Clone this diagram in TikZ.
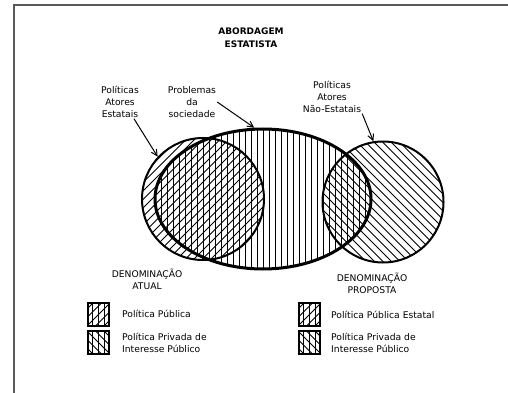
\documentclass[tikz,border=0pt]{standalone}
\usepackage{fontspec}
\setmainfont{DejaVu Sans}
\usetikzlibrary{shapes.geometric,arrows.meta}
\newcommand\hatchV{\foreach \k in {-20,...,20} \draw[hl] ([xshift=\k*6pt, yshift=-100pt]path picture bounding box.center) -- ++(0,-200);}
\newcommand\hatchNE{\foreach \k in {-14,...,14} \draw[hl] ([xshift=\k*8.5pt-100pt, yshift=-100pt]path picture bounding box.center) -- ++(200,-200);}
\newcommand\hatchNW{\foreach \k in {-14,...,14} \draw[hl] ([xshift=\k*8.5pt+100pt, yshift=-100pt]path picture bounding box.center) -- ++(-200,-200);}
\begin{document}
\begin{tikzpicture}[x=1pt,y=-1pt,
  hl/.style={line width=1pt, black},
  shapeline/.style={draw, inner sep=0pt, line width=2pt},
  txt/.style={align=center, font=\fontsize{9.2}{11.8}\selectfont, inner sep=1pt},
  legtxt/.style={align=left, anchor=west, font=\fontsize{9.2}{12}\selectfont, inner sep=0pt},
  lbox/.style={rectangle, draw, line width=1.5pt, minimum width=21pt, minimum height=23pt, inner sep=0pt},
  arr/.style={-{Straight Barb[length=6pt,width=6pt]}, line width=1pt},
  frame/.style={draw=black!65, line width=1.6pt}
]
\useasboundingbox (0,0) rectangle (508,393);
\draw[frame] (14,393) -- (14,5) -- (508,5);

% shapes
\node[circle, shapeline, minimum size=122pt, path picture={\hatchNE}] (lc) at (203,199) {};
\node[circle, shapeline, minimum size=121pt, path picture={\hatchNW}] (rc) at (383,202) {};
\node[ellipse, shapeline, line width=3pt, minimum width=216pt, minimum height=140pt, path picture={\hatchV}] (el) at (263,199) {};

% labels
\node[align=center, font=\bfseries\fontsize{9}{13}\selectfont] (title) at (251,38) {ABORDAGEM\\ESTATISTA};
\node[txt] (lt) at (120,102) {Políticas\\Atores\\Estatais};
\node[txt] (pt) at (192,102) {Problemas\\da\\sociedade};
\node[txt] (rt) at (332,97) {Políticas\\Atores\\Não-Estatais};
\node[txt] (da) at (147,279) {DENOMINAÇÃO\\ATUAL};
\node[txt] (dp) at (372,283) {DENOMINAÇÃO\\PROPOSTA};

% arrows
\draw[arr] ([xshift=-6pt]lt.south east) -- (lc.137);
\draw[arr] (pt.east) -- (el.97);
\draw[arr] (rt.south east) -- (rc.99);

% legend
\node[lbox, path picture={\hatchV\hatchNE}] (b1) at (98.5,314.5) {};
\node[lbox, path picture={\hatchV\hatchNW}] (b2) at (98.5,342.5) {};
\node[lbox, path picture={\hatchV\hatchNE}] (b3) at (309.5,314.5) {};
\node[lbox, path picture={\hatchV\hatchNW}] (b4) at (309.5,342.5) {};
\node[legtxt] (l1) at (122,314) {Política Pública};
\node[legtxt] (l2) at (122,343) {Política Privada de\\Interesse Público};
\node[legtxt] (l3) at (331,315) {Política Pública Estatal};
\node[legtxt] (l4) at (331,343) {Política Privada de\\Interesse Público};
\end{tikzpicture}
\end{document}
